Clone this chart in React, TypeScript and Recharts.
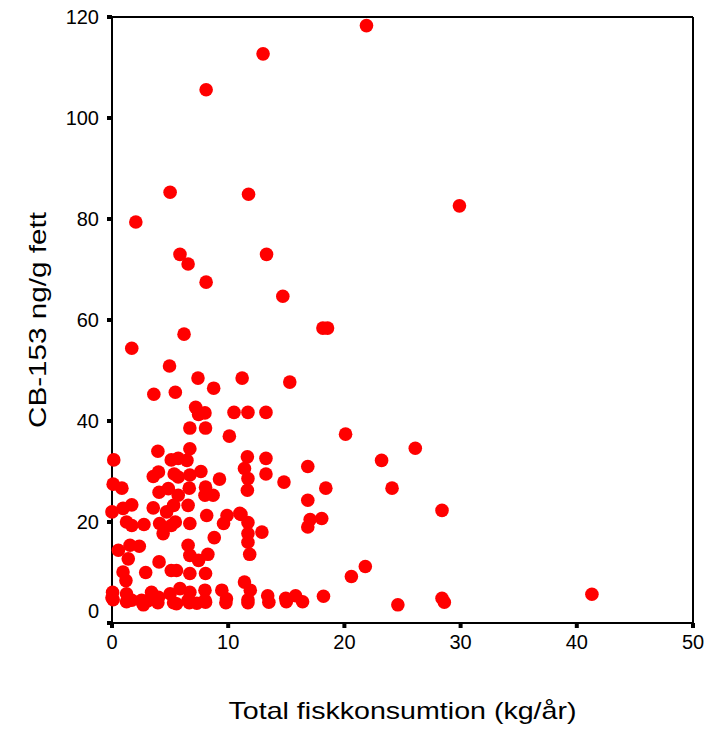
import { ScatterChart, Scatter, XAxis, YAxis, ReferenceLine } from 'recharts'

// total fish consumption (kg/year) and CB-153 (ng/g fat), paired by index
const fishKg = [
  21.9, 13.0, 8.1, 5.0, 11.75, 29.9, 2.05, 5.85, 13.3, 6.55,
  8.1, 14.7, 18.15, 18.55, 6.2, 1.7, 4.95, 7.4, 11.2, 15.3,
  8.75, 3.6, 5.45, 7.2, 8.0, 7.45, 10.5, 11.7, 13.25, 6.7,
  8.05, 10.1, 20.1, 26.1, 3.95, 6.7, 0.15, 5.1, 6.45, 5.7,
  11.65, 13.25, 23.2, 16.85, 11.4, 4.0, 3.55, 5.35, 5.7, 6.7,
  7.65, 11.7, 13.25, 9.25, 0.1, 14.8, 0.85, 4.05, 4.85, 6.65,
  8.05, 11.65, 18.4, 24.1, 5.7, 8.0, 8.7, 16.85, 3.55, 1.7,
  0.95, 0.0, 4.7, 5.3, 6.55, 28.4, 11.1, 8.15, 9.9, 11.0,
  1.25, 1.7, 2.75, 4.1, 5.1, 5.45, 6.7, 9.6, 11.7, 17.05,
  18.05, 16.85, 12.9, 11.7, 4.4, 8.8, 11.7, 6.55, 1.55, 2.35,
  0.55, 6.7, 8.25, 11.85, 1.4, 7.45, 4.05, 21.8, 5.1, 5.55,
  0.95, 2.9, 6.7, 8.05, 20.6, 1.2, 11.4, 5.85, 0.05, 1.25,
  3.4, 6.7, 8.0, 9.45, 11.9, 5.0, 4.0, 0.0, 1.7, 2.55,
  6.55, 8.0, 11.7, 13.4, 15.8, 14.95, 18.2, 9.85, 28.4, 41.3,
  2.65, 5.55, 1.25, 2.7, 3.95, 5.3, 6.65, 8.05, 9.8, 11.7,
  13.5, 15.0, 16.4, 24.6, 28.6, 0.1, 3.1, 7.3,
]

const cb153 = [
  118.3, 112.7, 105.6, 85.3, 84.9, 82.6, 79.4, 73.0, 73.0, 71.1,
  67.5, 64.7, 58.4, 58.4, 57.2, 54.4, 50.9, 48.5, 48.5, 47.7,
  46.5, 45.3, 45.7, 42.7, 41.6, 41.3, 41.7, 41.7, 41.7, 38.6,
  38.6, 37.0, 37.4, 34.6, 34.0, 34.5, 32.3, 32.3, 32.2, 32.6,
  32.9, 32.6, 32.2, 31.0, 30.6, 29.9, 29.0, 29.5, 28.9, 29.3,
  30.0, 28.6, 29.5, 28.5, 27.5, 27.9, 26.7, 25.9, 26.6, 26.7,
  26.9, 26.3, 26.7, 26.7, 25.3, 25.3, 25.3, 24.3, 22.8, 23.4,
  22.7, 22.0, 22.0, 23.3, 23.3, 22.3, 21.5, 21.3, 21.3, 21.7,
  20.0, 19.3, 19.5, 19.7, 19.3, 20.0, 19.7, 19.7, 19.9, 20.5,
  20.7, 19.0, 18.0, 17.7, 17.7, 16.9, 16.0, 15.4, 15.4, 15.2,
  14.4, 13.4, 13.6, 13.6, 12.7, 12.4, 12.1, 11.2, 10.4, 10.4,
  10.1, 10.0, 9.8, 9.8, 9.2, 8.4, 8.1, 6.8, 6.1, 5.8,
  6.1, 6.1, 6.5, 6.5, 6.5, 5.8, 5.1, 5.0, 4.5, 4.5,
  4.5, 4.5, 4.6, 5.4, 5.4, 4.9, 5.3, 4.8, 4.9, 5.7,
  3.9, 3.8, 4.2, 3.6, 4.0, 4.0, 4.0, 4.1, 4.0, 4.0,
  4.1, 4.2, 4.2, 3.6, 4.1, 4.6, 4.4, 3.9,
]

const xTicks = [0, 10, 20, 30, 40, 50]
const yTicks = [0, 20, 40, 60, 80, 100, 120]

const xTitle = 'Total fiskkonsumtion (kg/år)'
const yTitle = 'CB-153 ng/g fett'

const points = fishKg.map((x, i) => ({ x, y: cb153[i] }))

const FONT = '"Liberation Sans", Arial, sans-serif'

function YTick({ x, y, payload }: any) {
  // the zero label sits a bit higher so it clears the x axis
  const shift = payload.value === 0 ? -12 : 0
  return (
    <text x={x} y={y + shift} dy="0.36em" textAnchor="end" fontSize={20} fontFamily={FONT} fill="#000">
      {payload.value}
    </text>
  )
}

function XTick({ x, y, payload }: any) {
  return (
    <text x={x} y={y} dy="0.71em" textAnchor="middle" fontSize={20} fontFamily={FONT} fill="#000">
      {payload.value}
    </text>
  )
}

function Dot({ cx, cy }: any) {
  return <circle cx={cx} cy={cy} r={6.8} fill="#ff0000" />
}

export default function App() {
  return (
    <div style={{ position: 'absolute', left: 0, top: 0, background: '#fff' }}>
      <ScatterChart width={704} height={729} margin={{ top: 17, right: 11, bottom: 0, left: 0 }}>
        <XAxis
          type="number"
          dataKey="x"
          domain={[0, 50]}
          ticks={xTicks}
          interval={0}
          height={106}
          tick={<XTick />}
          tickSize={5}
          tickMargin={7}
          tickLine={{ stroke: '#000', strokeWidth: 4 }}
          axisLine={{ stroke: '#000', strokeWidth: 2 }}
          label={{
            content: ({ viewBox }: any) => (
              <text
                x={viewBox.x + viewBox.width / 2}
                y={719}
                textAnchor="middle"
                fontSize={24}
                fontFamily={FONT}
                fill="#000"
                textLength={348}
                lengthAdjust="spacingAndGlyphs"
              >
                {xTitle}
              </text>
            ),
          }}
        />
        <YAxis
          type="number"
          dataKey="y"
          domain={[0, 120]}
          ticks={yTicks}
          interval={0}
          width={112}
          tick={<YTick />}
          tickSize={5}
          tickMargin={8}
          tickLine={{ stroke: '#000', strokeWidth: 4 }}
          axisLine={{ stroke: '#000', strokeWidth: 2 }}
          label={{
            content: ({ viewBox }: any) => {
              const cy = viewBox.y + viewBox.height / 2
              return (
                <text
                  x={46}
                  y={cy}
                  transform={`rotate(-90, 46, ${cy})`}
                  textAnchor="middle"
                  fontSize={24}
                  fontFamily={FONT}
                  fill="#000"
                  textLength={216}
                  lengthAdjust="spacingAndGlyphs"
                >
                  {yTitle}
                </text>
              )
            },
          }}
        />
        <ReferenceLine y={120} stroke="#000" strokeWidth={2} />
        <ReferenceLine x={50} stroke="#000" strokeWidth={2} />
        <Scatter data={points} shape={<Dot />} isAnimationActive={false} />
      </ScatterChart>
    </div>
  )
}
